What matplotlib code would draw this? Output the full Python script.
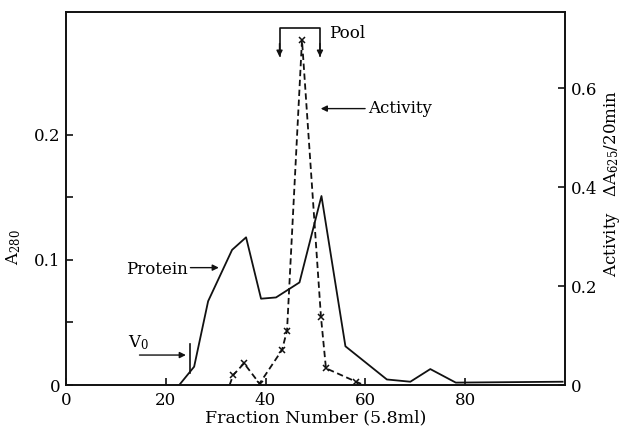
#!/usr/bin/env python3
import matplotlib as mpl

mpl.use("Agg")
import matplotlib.pyplot as plt

# Gel-filtration profile: protein (A280, left axis) and enzyme activity (right axis)
protein_frac = [22.7, 25.7, 28.5, 33.3, 36.1, 39.1, 42.1, 46.8, 51.2, 56.0, 64.3, 69.0, 73.0, 78.1, 99.5]
protein_a280 = [0.0, 0.0147, 0.067, 0.108, 0.118, 0.069, 0.070, 0.082, 0.151, 0.031, 0.0045, 0.0027, 0.0128, 0.002, 0.0027]

activity_frac = [32.8, 33.5, 35.7, 38.8, 43.3, 44.3, 47.3, 51.1, 52.1, 58.1, 59.5]
activity_val = [0.0, 0.02, 0.044, 0.003, 0.071, 0.11, 0.697, 0.138, 0.034, 0.007, 0.001]
activity_marked = [False, True, True, True, True, True, True, True, True, True, False]

pool_range = (42.8, 50.9)
v0_fraction = 24.6

INK = "#111111"
SERIF = ["DejaVu Serif"]

mpl.rcParams.update(
    {
        "font.family": SERIF,
        "font.size": 11,
        "mathtext.fontset": "dejavuserif",
        "xtick.direction": "in",
        "ytick.direction": "in",
        "axes.linewidth": 1.2,
    }
)

fig = plt.figure(figsize=(6.21, 4.26), dpi=100)
ax = fig.add_axes([0.106, 0.096, 0.804, 0.876])
ax2 = ax.twinx()

ax.plot(protein_frac, protein_a280, color=INK, lw=1.3, zorder=3)

ax2.plot(activity_frac, activity_val, color=INK, lw=1.3, dashes=(3.5, 2.0), zorder=3)
mx = [f for f, m in zip(activity_frac, activity_marked) if m]
my = [v for v, m in zip(activity_val, activity_marked) if m]
ax2.plot(mx, my, ls="none", marker="x", ms=5, mew=1.1, color=INK, zorder=4)

ax.set_xlim(0, 100)
ax.set_ylim(0, 0.298)
ax2.set_ylim(0, 0.754)

ax.set_xticks([0, 20, 40, 60, 80])
ax.set_xticklabels(["0", "20", "40", "60", "80"])
ax.set_yticks([0, 0.1, 0.2])
ax.set_yticklabels(["0", "0.1", "0.2"])
ax.set_yticks([0.05, 0.15], minor=True)
ax2.set_yticks([0, 0.2, 0.4, 0.6])
ax2.set_yticklabels(["0", "0.2", "0.4", "0.6"])

for a in (ax, ax2):
    a.tick_params(which="both", length=5, width=1.2, color=INK, labelsize=12)
    a.tick_params(axis="y", pad=4)
    for sp in a.spines.values():
        sp.set_color(INK)
ax.tick_params(axis="x", pad=5)

ax.set_xlabel("Fraction Number (5.8ml)", fontsize=12.5, labelpad=0)
fig.text(0.022, 0.42, r"A$_{280}$", rotation=90, ha="center", va="center", fontsize=12)
fig.text(0.986, 0.57, r"Activity   $\Delta$A$_{625}$/20min", rotation=90,
         ha="center", va="center", fontsize=12)

# Pool bracket over the activity peak
p0, p1 = pool_range
ytop = 0.285
ax.plot([p0, p0, p1, p1], [0.263, ytop, ytop, 0.263], color=INK, lw=1.2, clip_on=False)
for p in (p0, p1):
    ax.annotate("", xy=(p, 0.26), xytext=(p, 0.275),
                arrowprops=dict(arrowstyle="-|>", color=INK, lw=1.0, mutation_scale=9))
ax.text(p1 + 1.8, 0.281, "Pool", ha="left", va="center", fontsize=12)

# Curve labels with arrows
ax.annotate("", xy=(50.5, 0.2208), xytext=(60.5, 0.2208),
            arrowprops=dict(arrowstyle="-|>", color=INK, lw=1.0, mutation_scale=9))
ax.text(60.5, 0.2208, "Activity", ha="left", va="center", fontsize=12)

ax.annotate("", xy=(31.2, 0.0938), xytext=(24.4, 0.0938),
            arrowprops=dict(arrowstyle="-|>", color=INK, lw=1.0, mutation_scale=9))
ax.text(24.4, 0.0925, "Protein", ha="right", va="center", fontsize=12)

ax.annotate("", xy=(v0_fraction, 0.024), xytext=(14.2, 0.024),
            arrowprops=dict(arrowstyle="-|>", color=INK, lw=1.0, mutation_scale=9))
ax.plot([v0_fraction + 0.2, v0_fraction + 0.2], [0.0095, 0.0328], color=INK, lw=1.2)
ax.text(12.4, 0.034, r"V$_0$", ha="left", va="center", fontsize=12)

fig.savefig("out.png", dpi=100)
